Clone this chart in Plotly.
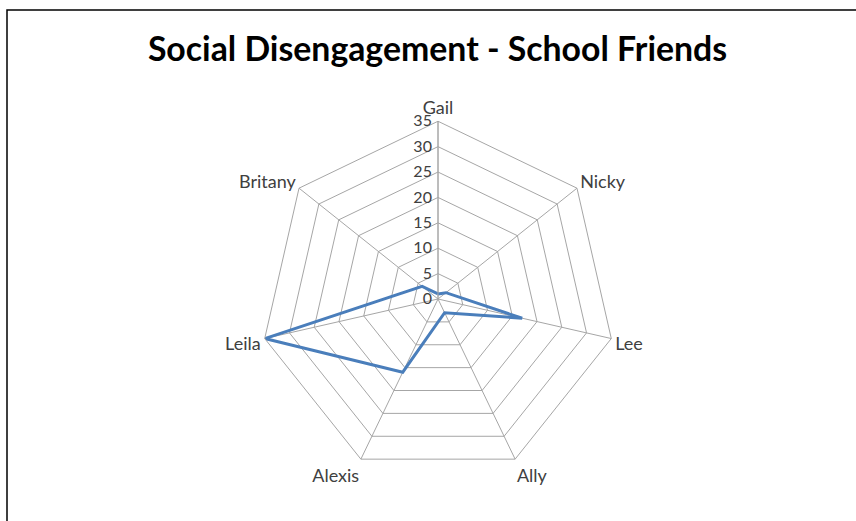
import plotly.graph_objects as go

categories = ["Gail", "Nicky", "Lee", "Ally", "Alexis", "Leila", "Britany"]
values = [1, 2, 17, 3, 16, 35, 4]
radial_ticks = [0, 5, 10, 15, 20, 25, 30, 35]

W, H = 856, 521
cx, cy, half = 438, 299, 177.75

fig = go.Figure()
fig.add_trace(go.Scatterpolar(
    r=values + [values[0]],
    theta=categories + [categories[0]],
    mode="lines",
    line=dict(color="#4A7EBB", width=3),
    showlegend=False,
))

fig.update_layout(
    width=W, height=H,
    margin=dict(l=0, r=0, t=0, b=0),
    paper_bgcolor="white",
    font=dict(family="Lato, Open Sans, sans-serif", size=16, color="#404040"),
    title=dict(text="<b>Social Disengagement - School Friends</b>",
               x=437.5 / W, xanchor="center", y=1 - 49 / H, yanchor="middle",
               font=dict(size=33.8, color="black", family="Lato, Open Sans, sans-serif")),
    polar=dict(
        domain=dict(x=[(cx - half) / W, (cx + half) / W],
                    y=[(H - cy - half) / H, (H - cy + half) / H]),
        gridshape="linear",
        bgcolor="white",
        radialaxis=dict(
            range=[0, 35], tickvals=radial_ticks, angle=90, tickangle=90,
            side="counterclockwise",
            showline=True, linecolor="#a6a6a6", linewidth=1,
            gridcolor="#a6a6a6", gridwidth=1, ticks="",
            tickfont=dict(size=16, color="#404040"),
        ),
        angularaxis=dict(
            direction="clockwise", rotation=90,
            showline=True, linecolor="#a6a6a6", linewidth=1,
            gridcolor="#a6a6a6", gridwidth=1, ticks="",
            tickfont=dict(size=18, color="#404040"),
        ),
    ),
    shapes=[dict(type="rect", xref="paper", yref="paper",
                 x0=7 / W, x1=1.05, y0=-0.05, y1=1 - 10 / H,
                 line=dict(color="black", width=1.5))],
)

fig.write_html("out.html", config={"displayModeBar": False},
               post_script="document.body.style.margin='0';")
